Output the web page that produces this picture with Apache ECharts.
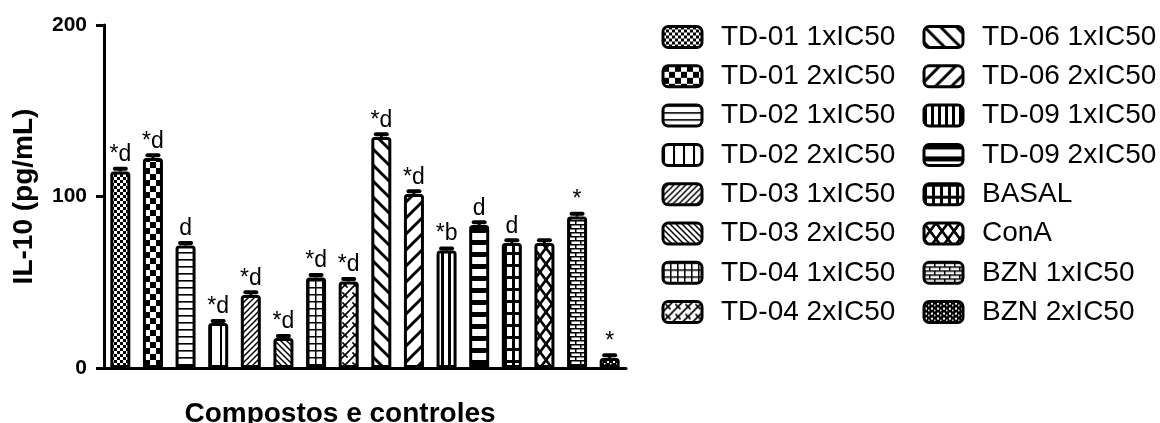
<!DOCTYPE html>
<html>
<head>
<meta charset="utf-8">
<script src="https://cdn.jsdelivr.net/npm/echarts@6/dist/echarts.min.js"></script>
<style>
html,body{margin:0;padding:0;background:#fff;}
#chart{width:1160px;height:423px;}
</style>
</head>
<body>
<div id="chart"></div>
<script>
// ---- data ----
const categories = ['TD-01 1xIC50','TD-01 2xIC50','TD-02 1xIC50','TD-02 2xIC50','TD-03 1xIC50','TD-03 2xIC50','TD-04 1xIC50','TD-04 2xIC50',
  'TD-06 1xIC50','TD-06 2xIC50','TD-09 1xIC50','TD-09 2xIC50','BASAL','ConA','BZN 1xIC50','BZN 2xIC50'];
const values = [114.6, 122.4, 71.4, 26.2, 42.6, 17.5, 52.8, 50.4, 134.7, 101.5, 68.5, 83.4, 72.9, 72.9, 88.3, 5.8];
const errors = [1.6, 1.6, 1.5, 1.2, 1.5, 1.2, 1.5, 1.5, 1.6, 1.6, 1.2, 1.6, 1.6, 1.6, 1.6, 1.6];
const sigLabels = ['*d','*d','d','*d','*d','*d','*d','*d','*d','*d','*b','d','d','','*','*'];
const yTicks = [0, 100, 200];
const yAxisTitle = 'IL-10 (pg/mL)';
const xAxisTitle = 'Compostos e controles';

// ---- patterns ----
function tile(w, h, fn, bg) {
  const c = document.createElement('canvas');
  c.width = w; c.height = h;
  const g = c.getContext('2d');
  g.fillStyle = bg || '#fff'; g.fillRect(0, 0, w, h);
  g.fillStyle = '#000'; g.strokeStyle = '#000';
  fn(g, w, h);
  return { image: c, repeat: 'repeat' };
}
function diag(g, s, lw, dir) {
  g.lineWidth = lw; g.lineCap = 'square';
  g.beginPath();
  if (dir === '/') {
    for (let k = -1; k <= 1; k++) { g.moveTo(k * s - 1, s + 1); g.lineTo(k * s + s + 1, -1); }
  } else {
    for (let k = -1; k <= 1; k++) { g.moveTo(k * s - 1, -1); g.lineTo(k * s + s + 1, s + 1); }
  }
  g.stroke();
}
const patterns = [
  tile(6, 6, g => { g.fillRect(0, 0, 3, 3); g.fillRect(3, 3, 3, 3); }),
  tile(12, 12, g => { g.fillRect(0, 0, 6, 6); g.fillRect(6, 6, 6, 6); }),
  tile(4, 7, g => { g.fillRect(0, 0, 4, 1.6); }),
  tile(10, 4, g => { g.fillRect(0, 0, 2, 4); }),
  tile(6, 6, g => diag(g, 6, 1.5, '/')),
  tile(6, 6, g => diag(g, 6, 1.5, '\\')),
  tile(7, 7, g => { g.fillRect(0, 0, 7, 1.5); g.fillRect(0, 0, 1.5, 7); }),
  tile(10, 10, g => { diag(g, 10, 1.6, '/'); g.lineWidth = 1.6; g.beginPath(); g.moveTo(3, 3); g.lineTo(7, 7); g.stroke(); }),
  tile(16, 16, g => diag(g, 16, 3, '\\')),
  tile(16, 16, g => diag(g, 16, 3, '/')),
  tile(7, 4, g => { g.fillRect(0, 0, 3, 4); }),
  tile(4, 12, g => { g.fillRect(0, 0, 4, 5); }),
  tile(8, 12, g => { g.fillRect(0, 0, 8, 3); g.fillRect(0, 0, 3, 12); }),
  tile(12, 16, g => { g.lineWidth = 2.6; g.beginPath(); g.moveTo(0, 0); g.lineTo(12, 16); g.moveTo(12, 0); g.lineTo(0, 16); g.stroke(); }),
  tile(10, 8, g => { g.fillRect(0, 0, 10, 1.5); g.fillRect(0, 4, 10, 1.5); g.fillRect(0, 0, 1.5, 4); g.fillRect(5, 4, 1.5, 4); }),
  tile(6, 5, g => { g.fillStyle = '#fff'; g.fillRect(1, 1, 2, 2); g.fillRect(4, 3, 1.5, 1.5); }, '#000')
];

const FONT = 'Liberation Sans, Arial, Helvetica, sans-serif';

const barSeries = categories.map((name, i) => ({
  name: name,
  type: 'bar',
  barWidth: 20,
  barGap: '-100%',
  data: categories.map((c, j) => (j === i ? values[i] : '-')),
  itemStyle: { color: patterns[i], borderColor: '#000', borderWidth: 3, borderRadius: [2, 2, 0, 0] },
  label: {
    show: sigLabels[i] !== '',
    position: 'top',
    distance: 5,
    formatter: sigLabels[i],
    color: '#000',
    fontFamily: FONT,
    fontSize: 23
  },
  z: 2
}));

const errSeries = {
  type: 'custom',
  z: 3,
  data: categories.map((c, i) => [i, values[i], errors[i]]),
  renderItem: function (params, api) {
    const b = api.coord([api.value(0), api.value(1)]);
    const t = api.coord([api.value(0), api.value(1) + api.value(2)]);
    return {
      type: 'group',
      children: [
        { type: 'line', shape: { x1: b[0], y1: b[1], x2: t[0], y2: t[1] }, style: { stroke: '#000', lineWidth: 3 } },
        { type: 'line', shape: { x1: t[0] - 5.5, y1: t[1], x2: t[0] + 5.5, y2: t[1] }, style: { stroke: '#000', lineWidth: 4, lineCap: 'round' } }
      ]
    };
  }
};

function legendCfg(left, names) {
  return {
    orient: 'vertical',
    left: left,
    top: 23,
    padding: 0,
    itemWidth: 39,
    itemHeight: 21,
    itemGap: 11.3,
    icon: 'roundRect',
    selectedMode: false,
    data: names,
    itemStyle: { borderColor: '#000', borderWidth: 3 },
    textStyle: { fontFamily: FONT, fontSize: 28, lineHeight: 28, color: '#000', padding: [0, 0, 0, 14] }
  };
}

const chart = echarts.init(document.getElementById('chart'), null, { renderer: 'canvas' });
chart.setOption({
  animation: false,
  backgroundColor: '#fff',
  grid: { left: 104, top: 25, width: 522, height: 343, containLabel: false, outerBoundsMode: 'none' },
  legend: [legendCfg(661.5, categories.slice(0, 8)), legendCfg(922.5, categories.slice(8))],
  xAxis: {
    type: 'category',
    data: categories,
    name: xAxisTitle,
    nameLocation: 'middle',
    nameGap: 32,
    nameTextStyle: { fontFamily: FONT, fontSize: 28, fontWeight: 'bold', color: '#000', padding: [0, 50, 0, 0] },
    axisLine: { lineStyle: { color: '#000', width: 3 } },
    axisTick: { alignWithLabel: true, length: 8, lineStyle: { color: '#000', width: 3 } },
    axisLabel: { show: false }
  },
  yAxis: {
    type: 'value',
    min: yTicks[0],
    max: yTicks[yTicks.length - 1],
    interval: yTicks[1] - yTicks[0],
    name: yAxisTitle,
    nameLocation: 'middle',
    nameGap: 66,
    nameTextStyle: { fontFamily: FONT, fontSize: 28, fontWeight: 'bold', color: '#000' },
    axisLine: { show: true, lineStyle: { color: '#000', width: 3 } },
    axisTick: { show: true, length: 8, lineStyle: { color: '#000', width: 3 } },
    axisLabel: { margin: 17, fontFamily: FONT, fontSize: 21, fontWeight: 'bold', color: '#000' },
    splitLine: { show: false }
  },
  series: barSeries.concat([errSeries])
});
</script>
</body>
</html>
